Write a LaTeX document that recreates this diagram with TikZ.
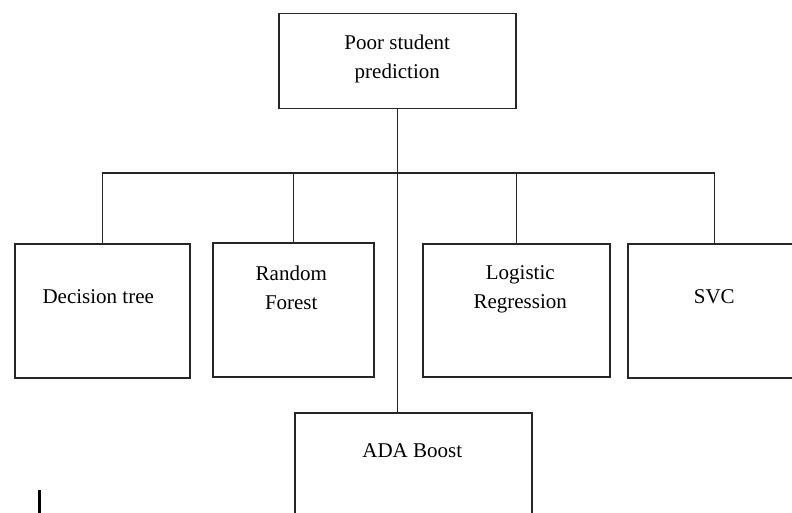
\documentclass[tikz,border=0pt]{standalone}
\usepackage{fontspec}
\setmainfont{Liberation Serif}
\begin{document}
\begin{tikzpicture}[x=1pt,y=-1pt,
  every node/.style={inner sep=0pt},
  box/.style={draw=black!85,line width=1.5pt,anchor=north west},
  lbl/.style={align=center,font=\fontsize{21}{29}\selectfont},
  link/.style={draw=black!85,line width=1.5pt}]
\clip (0,0) rectangle (792,513);
\node[box,minimum width=237pt,minimum height=95pt] (top) at (278,13) {};
\node[lbl] (toplbl) at ([yshift=-46pt]top.north) {Poor student\\prediction};

\node[box,minimum width=175pt,minimum height=134pt] (dt) at (14,243) {};
\node[box,minimum width=161pt,minimum height=134pt] (rf) at (212,242) {};
\node[box,minimum width=187pt,minimum height=133pt] (lr) at (422,243) {};
\node[box,minimum width=173pt,minimum height=134pt] (svc) at (627,243) {};
\node[box,minimum width=237pt,minimum height=130pt] (ada) at (294,412) {};

\node[lbl] (dtlbl) at ([xshift=-4pt,yshift=-54pt]dt.north) {Decision tree};
\node[lbl] (rflbl) at ([xshift=-2pt,yshift=-46pt]rf.north) {Random\\Forest};
\node[lbl] (lrlbl) at ([xshift=4pt,yshift=-46pt]lr.north) {Logistic\\Regression};
\node[lbl] (svclbl) at ([yshift=-54pt]svc.north) {SVC};
\node[lbl] (adalbl) at ([xshift=-1pt,yshift=-39pt]ada.north) {ADA Boost};

\coordinate (bus) at (397,173);
\draw[link] (top.south) -- (top.south |- ada.north);
\draw[link] (dt.north) |- (bus) -| (svc.north);
\draw[link] (rf.north) -- (rf.north |- bus);
\draw[link] (lr.north) -- (lr.north |- bus);

\draw[line width=3pt] (39,490) -- (39,513);
\end{tikzpicture}
\end{document}
